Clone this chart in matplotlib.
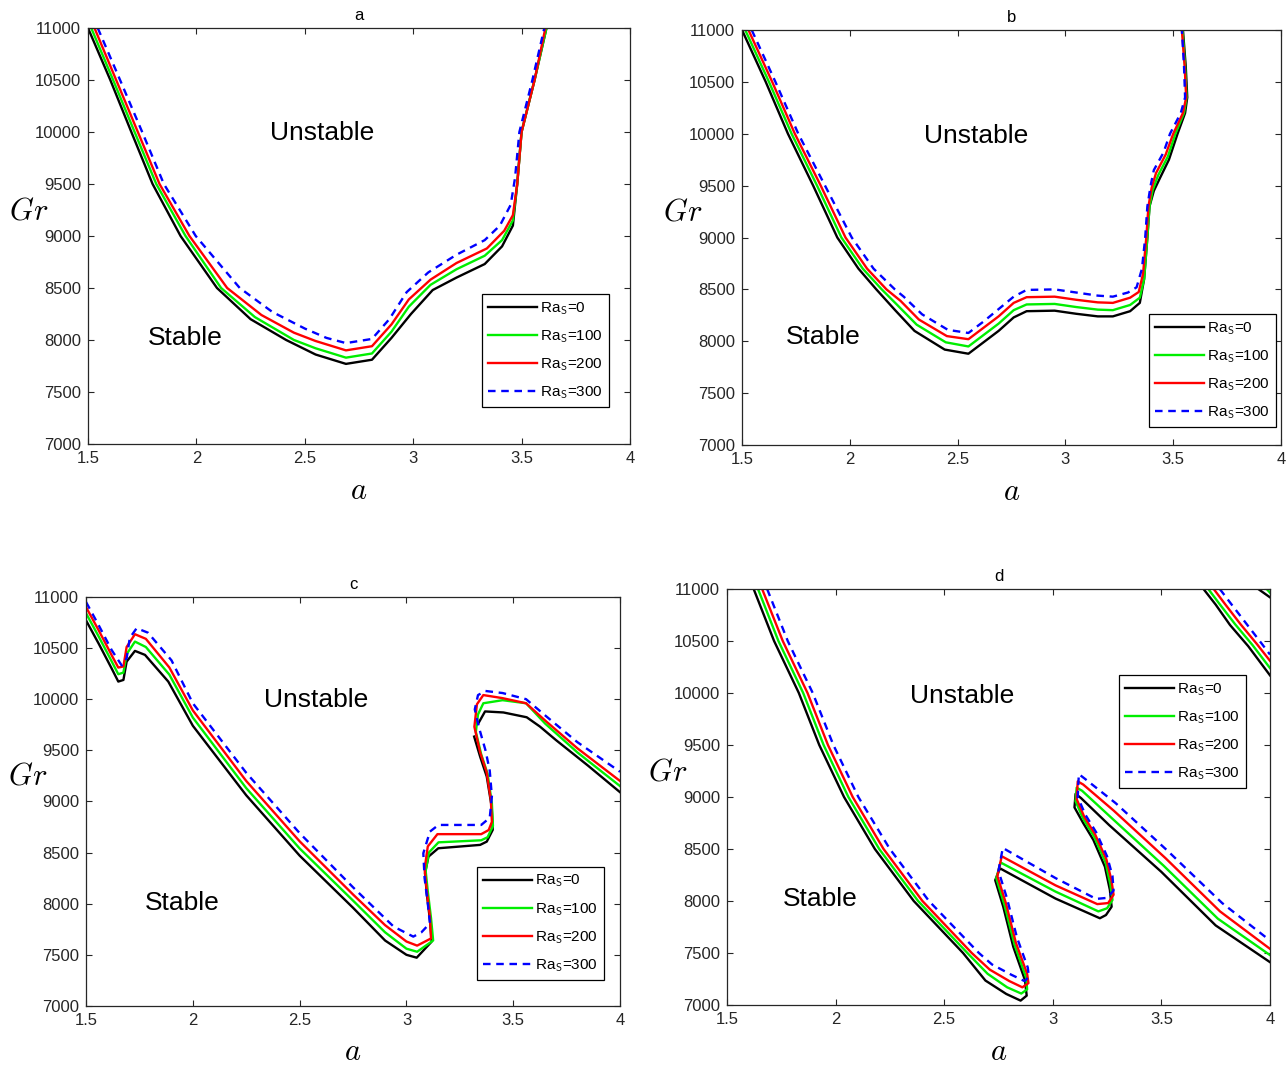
import numpy as np
import matplotlib
matplotlib.use("Agg")
import matplotlib.pyplot as plt

plt.rcParams['font.family'] = ['Liberation Sans', 'DejaVu Sans']
plt.rcParams['mathtext.fontset'] = 'cm'

# ---- panel a ----
p1_k_a = [1.50, 1.603, 1.70, 1.798, 1.927, 2.095, 2.25, 2.414, 2.55, 2.69, 2.81, 2.90, 2.99, 3.09, 3.20, 3.33, 3.41, 3.46, 3.48, 3.50, 3.56, 3.615]
p1_k_gr = [11000, 10500, 10000, 9500, 9000, 8500, 8200, 8000, 7860, 7770, 7810, 8020, 8250, 8480, 8600, 8730, 8900, 9100, 9500, 10000, 10500, 11000]
p1_g_a = [1.515, 1.616, 1.715, 1.815, 1.95, 2.114, 2.27, 2.45, 2.55, 2.69, 2.81, 2.90, 2.98, 3.08, 3.20, 3.33, 3.41, 3.46, 3.48, 3.50, 3.56, 3.615]
p1_g_gr = [11000, 10500, 10000, 9500, 9000, 8500, 8220, 8000, 7920, 7830, 7870, 8080, 8320, 8530, 8680, 8810, 8960, 9150, 9500, 10000, 10500, 11000]
p1_r_a = [1.53, 1.63, 1.73, 1.83, 1.968, 2.142, 2.30, 2.45, 2.55, 2.69, 2.81, 2.90, 2.98, 3.08, 3.20, 3.34, 3.42, 3.46, 3.48, 3.50, 3.56, 3.61]
p1_r_gr = [11000, 10500, 10000, 9500, 9000, 8500, 8240, 8070, 7990, 7900, 7940, 8150, 8390, 8580, 8740, 8880, 9050, 9200, 9500, 10000, 10500, 11000]
p1_b_a = [1.545, 1.648, 1.75, 1.85, 1.997, 2.20, 2.35, 2.50, 2.60, 2.69, 2.81, 2.89, 2.97, 3.07, 3.20, 3.33, 3.40, 3.45, 3.47, 3.49, 3.55, 3.605]
p1_b_gr = [11000, 10500, 10000, 9500, 9000, 8500, 8270, 8110, 8020, 7970, 8010, 8200, 8460, 8650, 8820, 8960, 9100, 9300, 9560, 10000, 10500, 11000]

# ---- panel b ----
p2_k_a = [1.50, 1.61, 1.713, 1.83, 1.942, 2.04, 2.123, 2.21, 2.30, 2.44, 2.55, 2.62, 2.69, 2.76, 2.82, 2.95, 3.05, 3.15, 3.22, 3.30, 3.345, 3.365, 3.38, 3.39, 3.41, 3.44, 3.48, 3.52, 3.555, 3.565, 3.558, 3.545]
p2_k_gr = [11000, 10500, 10000, 9500, 9000, 8700, 8500, 8300, 8100, 7920, 7880, 7990, 8100, 8230, 8290, 8295, 8265, 8240, 8240, 8290, 8370, 8600, 9000, 9300, 9450, 9580, 9750, 10000, 10200, 10350, 10650, 11000]
p2_g_a = [1.515, 1.625, 1.73, 1.848, 1.961, 2.06, 2.148, 2.22, 2.31, 2.445, 2.55, 2.62, 2.69, 2.76, 2.82, 2.95, 3.05, 3.15, 3.22, 3.30, 3.345, 3.365, 3.38, 3.39, 3.405, 3.43, 3.475, 3.51, 3.55, 3.562, 3.555, 3.543]
p2_g_gr = [11000, 10500, 10000, 9500, 9000, 8700, 8500, 8350, 8160, 7990, 7950, 8060, 8170, 8300, 8355, 8360, 8330, 8305, 8300, 8350, 8420, 8600, 9000, 9300, 9460, 9600, 9780, 10000, 10200, 10350, 10650, 11000]
p2_r_a = [1.53, 1.64, 1.745, 1.865, 1.98, 2.08, 2.17, 2.235, 2.32, 2.45, 2.55, 2.62, 2.69, 2.76, 2.82, 2.95, 3.05, 3.15, 3.22, 3.30, 3.34, 3.36, 3.375, 3.385, 3.40, 3.42, 3.465, 3.50, 3.545, 3.56, 3.553, 3.54]
p2_r_gr = [11000, 10500, 10000, 9500, 9000, 8700, 8500, 8390, 8210, 8050, 8020, 8130, 8240, 8370, 8425, 8430, 8400, 8375, 8370, 8420, 8475, 8650, 9000, 9300, 9480, 9620, 9800, 10000, 10200, 10350, 10650, 11000]
p2_b_a = [1.545, 1.655, 1.761, 1.885, 2.009, 2.11, 2.209, 2.25, 2.335, 2.455, 2.55, 2.62, 2.69, 2.76, 2.82, 2.95, 3.05, 3.15, 3.22, 3.29, 3.33, 3.355, 3.37, 3.38, 3.395, 3.41, 3.455, 3.485, 3.535, 3.555, 3.55, 3.54]
p2_b_gr = [11000, 10500, 10000, 9500, 9000, 8700, 8500, 8430, 8260, 8110, 8080, 8190, 8310, 8430, 8495, 8500, 8470, 8440, 8430, 8470, 8520, 8700, 9000, 9300, 9500, 9650, 9820, 10000, 10200, 10350, 10650, 11000]

# ---- panel c ----
p3_k_a = [1.50, 1.56, 1.62, 1.651, 1.675, 1.69, 1.729, 1.776, 1.885, 2.00, 2.25, 2.50, 2.75, 2.90, 3.00, 3.048, 3.118, 3.110, 3.095, 3.087, 3.103, 3.149, 3.345, 3.376, 3.404, 3.399, 3.376, 3.345, 3.317,
          np.nan, 3.337, 3.368, 3.454, 3.563, 3.625, 3.70, 3.85, 4.00]
p3_k_gr = [10770, 10540, 10300, 10172, 10188, 10367, 10472, 10433, 10172, 9740, 9060, 8470, 7960, 7640, 7500, 7472, 7629, 7841, 8102, 8298, 8460, 8542, 8575, 8607, 8722, 8949, 9243, 9438, 9634,
           np.nan, 9765, 9880, 9870, 9823, 9732, 9600, 9350, 9090]
p3_g_a = [1.50, 1.56, 1.62, 1.651, 1.675, 1.69, 1.729, 1.78, 1.89, 2.00, 2.25, 2.50, 2.75, 2.90, 3.00, 3.05, 3.125, 3.115, 3.10, 3.09, 3.105, 3.15, 3.35, 3.38, 3.405, 3.40, 3.38, 3.35, 3.325, 3.335, 3.36, 3.45, 3.56, 3.65, 3.80, 4.00]
p3_g_gr = [10840, 10610, 10370, 10244, 10260, 10440, 10563, 10510, 10240, 9820, 9130, 8540, 8030, 7720, 7560, 7530, 7640, 7860, 8120, 8320, 8500, 8600, 8620, 8650, 8760, 8980, 9270, 9460, 9680, 9850, 9960, 9990, 9960, 9760, 9480, 9150]
p3_r_a = [1.50, 1.56, 1.62, 1.651, 1.675, 1.69, 1.729, 1.78, 1.89, 2.00, 2.25, 2.50, 2.75, 2.90, 3.00, 3.05, 3.115, 3.11, 3.095, 3.085, 3.10, 3.145, 3.35, 3.385, 3.40, 3.395, 3.375, 3.345, 3.318, 3.33, 3.36, 3.45, 3.56, 3.65, 3.80, 4.00]
p3_r_gr = [10900, 10670, 10430, 10309, 10320, 10510, 10635, 10590, 10310, 9890, 9200, 8610, 8090, 7790, 7630, 7590, 7660, 7870, 8130, 8340, 8560, 8680, 8680, 8720, 8800, 9020, 9290, 9480, 9730, 9950, 10040, 10010, 9960, 9790, 9520, 9200]
p3_b_a = [1.50, 1.56, 1.62, 1.667, 1.69, 1.705, 1.737, 1.79, 1.90, 2.00, 2.25, 2.50, 2.75, 2.94, 3.032, 3.07, 3.11, 3.10, 3.085, 3.079, 3.11, 3.15, 3.35, 3.39, 3.40, 3.39, 3.37, 3.34, 3.32, 3.335, 3.37, 3.45, 3.56, 3.65, 3.80, 4.00]
p3_b_gr = [10950, 10720, 10480, 10330, 10400, 10600, 10694, 10650, 10380, 9960, 9280, 8690, 8160, 7776, 7678, 7720, 7809, 8000, 8250, 8493, 8705, 8770, 8770, 8840, 9050, 9300, 9500, 9720, 9900, 10040, 10080, 10060, 10000, 9840, 9580, 9290]

# ---- panel d ----
p4_k_a = [1.623, 1.717, 1.831, 1.925, 2.039, 2.181, 2.36, 2.587, 2.69, 2.786, 2.852, 2.88, 2.872, 2.818, 2.772, 2.735, 2.757, 3.013, 3.217, 3.245, 3.271, 3.263, 3.24, 3.187, 3.14, 3.10, 3.105, 3.13, 3.259, 3.50, 3.75, 4.00]
p4_k_gr = [11000, 10500, 10000, 9500, 9000, 8500, 8000, 7500, 7235, 7106, 7042, 7090, 7240, 7561, 7945, 8200, 8314, 8023, 7834, 7865, 7945, 8106, 8330, 8587, 8750, 8900, 9030, 8990, 8731, 8280, 7765, 7412]
p4_g_a = [1.643, 1.737, 1.851, 1.945, 2.059, 2.201, 2.38, 2.607, 2.70, 2.79, 2.855, 2.882, 2.878, 2.824, 2.778, 2.74, 2.76, 3.013, 3.21, 3.25, 3.275, 3.265, 3.243, 3.19, 3.14, 3.105, 3.11, 3.135, 3.27, 3.51, 3.76, 4.00]
p4_g_gr = [11000, 10500, 10000, 9500, 9000, 8500, 8000, 7500, 7300, 7170, 7110, 7150, 7260, 7580, 7960, 8220, 8370, 8090, 7900, 7930, 8010, 8160, 8370, 8620, 8790, 8960, 9090, 9060, 8800, 8340, 7830, 7480]
p4_r_a = [1.662, 1.757, 1.871, 1.965, 2.079, 2.221, 2.40, 2.627, 2.71, 2.80, 2.86, 2.888, 2.882, 2.83, 2.784, 2.745, 2.765, 3.013, 3.205, 3.255, 3.28, 3.27, 3.247, 3.195, 3.145, 3.11, 3.115, 3.14, 3.28, 3.52, 3.77, 4.00]
p4_r_gr = [11000, 10500, 10000, 9500, 9000, 8500, 8000, 7500, 7340, 7230, 7170, 7210, 7300, 7600, 7980, 8240, 8430, 8150, 7970, 7980, 8060, 8200, 8400, 8640, 8810, 8980, 9150, 9120, 8870, 8410, 7900, 7540]
p4_b_a = [1.685, 1.78, 1.895, 1.99, 2.105, 2.25, 2.43, 2.66, 2.72, 2.81, 2.87, 2.89, 2.885, 2.835, 2.79, 2.75, 2.77, 3.013, 3.20, 3.25, 3.28, 3.275, 3.25, 3.20, 3.15, 3.115, 3.12, 3.145, 3.29, 3.53, 3.78, 4.00]
p4_b_gr = [11000, 10500, 10000, 9500, 9000, 8500, 8000, 7500, 7390, 7290, 7230, 7270, 7360, 7650, 8020, 8290, 8510, 8220, 8020, 8030, 8100, 8240, 8430, 8660, 8830, 9000, 9220, 9180, 8940, 8480, 7980, 7620]
# upper-right branches of panel d
p4_k2_a = [3.694, 3.75, 3.816, 3.90, 4.00, np.nan, 3.946, 4.00]
p4_k2_gr = [11000, 10850, 10654, 10450, 10170, np.nan, 11000, 10920]
p4_g2_a = [3.716, 3.77, 3.84, 3.92, 4.00, np.nan, 3.985, 4.00]
p4_g2_gr = [11000, 10850, 10660, 10460, 10240, np.nan, 11000, 10965]
p4_r2_a = [3.741, 3.795, 3.865, 3.94, 4.00]
p4_r2_gr = [11000, 10850, 10660, 10470, 10310]
p4_b2_a = [3.769, 3.82, 3.89, 3.96, 4.00]
p4_b2_gr = [11000, 10860, 10670, 10480, 10370]

labels = ['Ra$_\\mathsf{S}$=0', 'Ra$_\\mathsf{S}$=100', 'Ra$_\\mathsf{S}$=200', 'Ra$_\\mathsf{S}$=300']
colors = ['#000000', '#00ee00', '#ff0000', '#0000ff']
styles = ['-', '-', '-', (0, (3.2, 2.4))]
xticks = [1.5, 2, 2.5, 3, 3.5, 4]
xticklabels = ['1.5', '2', '2.5', '3', '3.5', '4']
yticks = [7000, 7500, 8000, 8500, 9000, 9500, 10000, 10500, 11000]

panels = [
    ('a', [0.0683, 0.5843, 0.4208, 0.3895],
     [(p1_k_a, p1_k_gr), (p1_g_a, p1_g_gr), (p1_r_a, p1_r_gr), (p1_b_a, p1_b_gr)],
     [], (0.961, 0.089), (2.58, 9990), (1.947, 8019)),
    ('b', [0.5761, 0.5833, 0.4185, 0.3886],
     [(p2_k_a, p2_k_gr), (p2_g_a, p2_g_gr), (p2_r_a, p2_r_gr), (p2_b_a, p2_b_gr)],
     [], (0.991, 0.043), (2.585, 9978), (1.876, 8041)),
    ('c', [0.0668, 0.0581, 0.4146, 0.3830],
     [(p3_k_a, p3_k_gr), (p3_g_a, p3_g_gr), (p3_r_a, p3_r_gr), (p3_b_a, p3_b_gr)],
     [], (0.970, 0.064), (2.577, 9993), (1.949, 8007)),
    ('d', [0.5644, 0.0590, 0.4216, 0.3895],
     [(p4_k_a, p4_k_gr), (p4_g_a, p4_g_gr), (p4_r_a, p4_r_gr), (p4_b_a, p4_b_gr)],
     [(p4_k2_a, p4_k2_gr), (p4_g2_a, p4_g2_gr), (p4_r2_a, p4_r2_gr), (p4_b2_a, p4_b2_gr)],
     (0.956, 0.522), (2.582, 9971), (1.928, 8019)),
]

fig = plt.figure(figsize=(12.88, 10.68), dpi=100)
axcol = '#262626'

for name, rect, series, extra, legpos, unst, stab in panels:
    ax = fig.add_axes(rect)
    handles = []
    for i, (xa, ya) in enumerate(series):
        h, = ax.plot(xa, ya, color=colors[i], ls=styles[i], lw=1.7, label=labels[i])
        handles.append(h)
    for i, (xa, ya) in enumerate(extra):
        ax.plot(xa, ya, color=colors[i], ls=styles[i], lw=1.7)
    ax.set_xlim(1.5, 4)
    ax.set_ylim(7000, 11000)
    ax.set_xticks(xticks)
    ax.set_xticklabels(xticklabels)
    ax.set_yticks(yticks)
    ax.tick_params(direction='in', top=True, right=True, length=4, width=0.8,
                   labelsize=12, colors=axcol, pad=5)
    for sp in ax.spines.values():
        sp.set_color(axcol)
        sp.set_linewidth(0.9)
    ax.set_title(name, fontsize=12, pad=6)
    ax.text(-0.11, 0.56, r'$Gr$', transform=ax.transAxes, fontsize=22,
            ha='center', va='center')
    ax.text(0.5, -0.113, r'$a$', transform=ax.transAxes, fontsize=22,
            ha='center', va='center')
    ax.text(unst[0], unst[1], 'Unstable', fontsize=19, ha='center', va='center')
    ax.text(stab[0], stab[1], 'Stable', fontsize=19, ha='center', va='center')
    leg = ax.legend(handles=handles, loc='lower right', bbox_to_anchor=legpos,
                    fontsize=11, frameon=True, fancybox=False, framealpha=1,
                    edgecolor='black', handlelength=3.2, handletextpad=0.2,
                    labelspacing=0.75, borderpad=0.4, borderaxespad=0)
    leg.get_frame().set_linewidth(0.9)

fig.savefig('out.png', dpi=100)
